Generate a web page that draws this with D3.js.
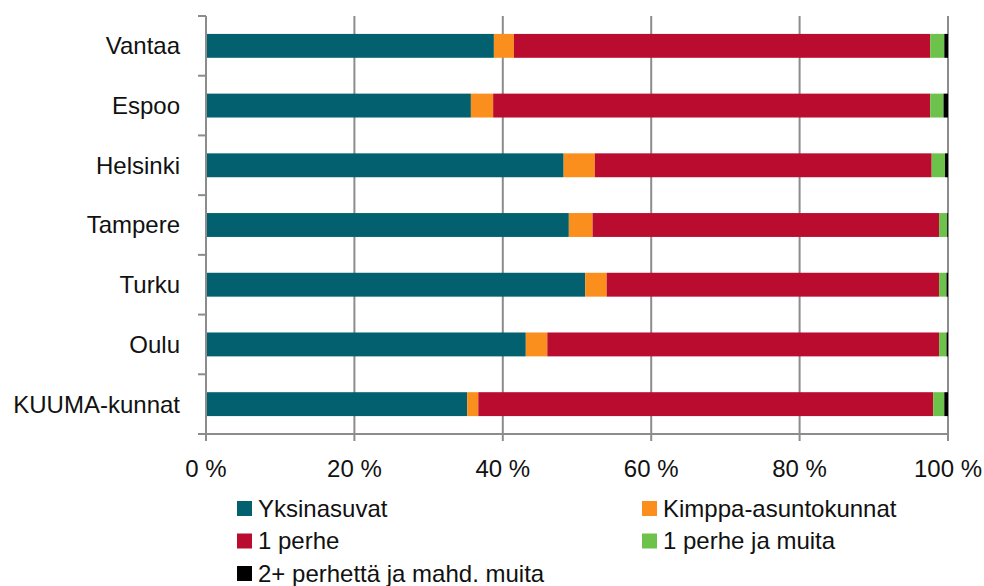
<!DOCTYPE html>
<html>
<head>
<meta charset="utf-8">
<script src="https://cdn.jsdelivr.net/npm/d3@7"></script>
<style>
  body { margin: 0; background: #fff; }
  svg { display: block; font-family: "Liberation Sans", Arial, sans-serif; }
</style>
</head>
<body>
<svg id="chart" width="984" height="586"></svg>
<script>
// categories, top to bottom
const cities = ["Vantaa", "Espoo", "Helsinki", "Tampere", "Turku", "Oulu", "KUUMA-kunnat"]
const seriesNames = ["Yksinasuvat", "Kimppa-asuntokunnat", "1 perhe", "1 perhe ja muita", "2+ perhettä ja mahd. muita"]
const seriesColors = ["#03616f", "#fb8f1e", "#ba0c2f", "#6cc24a", "#000000"]
// shares in percent, one array per series, in city order
const yksinasuvat = [38.8, 35.7, 48.2, 48.9, 51.1, 43.1, 35.2]
const kimppa = [2.7, 3.0, 4.2, 3.2, 2.9, 2.9, 1.5]
const perhe1 = [56.1, 58.9, 45.4, 46.7, 44.8, 52.8, 61.3]
const perheMuita = [1.9, 1.8, 1.8, 1.1, 1.0, 1.0, 1.5]
const perhe2plus = [0.5, 0.6, 0.4, 0.1, 0.2, 0.2, 0.5]
const xTicks = [0, 20, 40, 60, 80, 100]

const width = 984, height = 586
const margin = { top: 16, right: 36, bottom: 152, left: 206 }
const axisColor = "#8c8c8c"

const rows = cities.map(function(c, i) {
  return {
    city: c,
    "Yksinasuvat": yksinasuvat[i],
    "Kimppa-asuntokunnat": kimppa[i],
    "1 perhe": perhe1[i],
    "1 perhe ja muita": perheMuita[i],
    "2+ perhettä ja mahd. muita": perhe2plus[i]
  }
})

const svg = d3.select("#chart")

const x = d3.scaleLinear().domain([0, 100]).range([margin.left, width - margin.right])
const y = d3.scaleBand().domain(cities).range([margin.top, height - margin.bottom])
  .paddingInner(0.6).paddingOuter(0.3)
const color = d3.scaleOrdinal().domain(seriesNames).range(seriesColors)

// vertical gridlines
svg.append("g")
  .selectAll("line")
  .data(xTicks.slice(1))
  .enter().append("line")
    .attr("x1", d => x(d)).attr("x2", d => x(d))
    .attr("y1", margin.top).attr("y2", height - margin.bottom)
    .attr("stroke", axisColor).attr("stroke-width", 2)

// stacked bars
const stacked = d3.stack().keys(seriesNames)(rows)
svg.append("g")
  .selectAll("g")
  .data(stacked)
  .enter().append("g")
    .attr("fill", d => color(d.key))
  .selectAll("rect")
  .data(d => d)
  .enter().append("rect")
    .attr("x", d => x(d[0]))
    .attr("width", d => x(d[1]) - x(d[0]))
    .attr("y", d => y(d.data.city))
    .attr("height", y.bandwidth())

// left axis, ticks sit on the category boundaries
const yAxis = svg.append("g")
yAxis.append("line")
  .attr("x1", x(0)).attr("x2", x(0))
  .attr("y1", margin.top).attr("y2", height - margin.bottom)
  .attr("stroke", axisColor).attr("stroke-width", 2)
yAxis.selectAll(".tick")
  .data(d3.range(cities.length + 1))
  .enter().append("line")
    .attr("x1", x(0) - 8).attr("x2", x(0))
    .attr("y1", i => margin.top + i * y.step()).attr("y2", i => margin.top + i * y.step())
    .attr("stroke", axisColor).attr("stroke-width", 2)
yAxis.selectAll("text")
  .data(cities)
  .enter().append("text")
    .attr("x", x(0) - 26)
    .attr("y", d => y(d) + y.bandwidth() / 2)
    .attr("dy", "0.35em")
    .attr("text-anchor", "end")
    .attr("font-size", 24)
    .attr("fill", "#111")
    .text(d => d)

// bottom axis
const base = height - margin.bottom
const xAxis = svg.append("g")
xAxis.append("line")
  .attr("x1", x(0) - 8).attr("x2", x(100))
  .attr("y1", base).attr("y2", base)
  .attr("stroke", axisColor).attr("stroke-width", 2)
xAxis.selectAll(".tick")
  .data(xTicks)
  .enter().append("line")
    .attr("x1", d => x(d)).attr("x2", d => x(d))
    .attr("y1", base).attr("y2", base + 7)
    .attr("stroke", axisColor).attr("stroke-width", 2)
xAxis.selectAll("text")
  .data(xTicks)
  .enter().append("text")
    .attr("x", d => x(d))
    .attr("y", base + 43)
    .attr("text-anchor", "middle")
    .attr("font-size", 24)
    .attr("fill", "#111")
    .text(d => d + " %")

// legend, two columns
const legend = svg.append("g")
  .selectAll("g")
  .data(seriesNames)
  .enter().append("g")
    .attr("transform", (d, i) => "translate(" + (i % 2 == 0 ? 237 : 642) + "," + (501 + Math.floor(i / 2) * 32.5) + ")")
legend.append("rect")
  .attr("width", 15).attr("height", 15)
  .attr("fill", d => color(d))
legend.append("text")
  .attr("x", 21)
  .attr("y", 7.5)
  .attr("dy", "0.35em")
  .attr("font-size", 24)
  .attr("fill", "#111")
  .text(d => d)
</script>
</body>
</html>
